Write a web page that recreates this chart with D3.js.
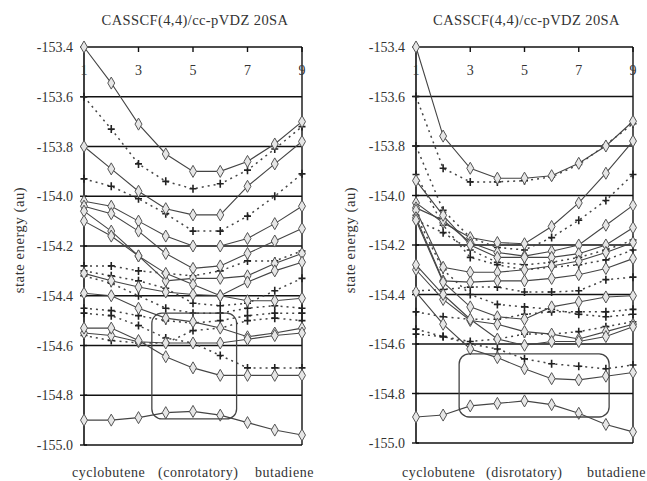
<!DOCTYPE html>
<html>
<head>
<meta charset="utf-8">
<script src="https://cdn.jsdelivr.net/npm/d3@7"></script>
<style>
  body { margin: 0; background: #fff; }
  svg { display: block; }
  text { fill: #333; }
</style>
</head>
<body>
<svg id="chart" width="647" height="481" font-family="'Liberation Serif', 'Times New Roman', serif"></svg>
<script>
// Data
const steps = [1, 2, 3, 4, 5, 6, 7, 8, 9]
const topTicks = [1, 3, 5, 7, 9]
const energyTicks = [-153.4, -153.6, -153.8, -154.0, -154.2, -154.4, -154.6, -154.8, -155.0]
const titleText = "CASSCF(4,4)/cc-pVDZ 20SA"
const conLabels = ["cyclobutene", "(conrotatory)", "butadiene"]
const disLabels = ["cyclobutene", "(disrotatory)", "butadiene"]

// conrotatory, solid lines with diamonds
const conSolid = [
  [-153.40, -153.545, -153.71, -153.83, -153.90, -153.90, -153.86, -153.79, -153.70],
  [-153.80, -153.89, -153.98, -154.05, -154.075, -154.075, -153.96, -153.87, -153.78],
  [-154.02, -154.04, -154.10, -154.16, -154.20, -154.20, -154.17, -154.11, -154.04],
  [-154.04, -154.07, -154.14, -154.23, -154.29, -154.28, -154.23, -154.18, -154.13],
  [-154.06, -154.14, -154.24, -154.34, -154.33, -154.33, -154.32, -154.27, -154.23],
  [-154.10, -154.16, -154.24, -154.31, -154.355, -154.40, -154.42, -154.42, -154.41],
  [-154.31, -154.34, -154.365, -154.385, -154.395, -154.40, -154.345, -154.30, -154.265],
  [-154.39, -154.40, -154.45, -154.49, -154.505, -154.53, -154.565, -154.55, -154.53],
  [-154.55, -154.56, -154.585, -154.59, -154.59, -154.59, -154.575, -154.56, -154.55],
  [-154.53, -154.53, -154.58, -154.645, -154.69, -154.72, -154.72, -154.72, -154.72],
  [-154.90, -154.90, -154.89, -154.87, -154.865, -154.88, -154.91, -154.94, -154.96]
]
// conrotatory, dotted lines with plus signs
const conDotted = [
  [-153.60, -153.73, -153.87, -153.94, -153.97, -153.95, -153.895, -153.81, -153.72],
  [-153.93, -153.96, -154.01, -154.07, -154.14, -154.14, -154.08, -154.00, -153.91],
  [-154.28, -154.28, -154.30, -154.31, -154.32, -154.30, -154.26, -154.26, -154.22],
  [-154.30, -154.32, -154.34, -154.37, -154.43, -154.44, -154.43, -154.38, -154.33],
  [-154.32, -154.35, -154.40, -154.45, -154.47, -154.47, -154.45, -154.44, -154.45],
  [-154.45, -154.46, -154.48, -154.50, -154.51, -154.50, -154.48, -154.47, -154.47],
  [-154.47, -154.48, -154.52, -154.57, -154.59, -154.64, -154.69, -154.69, -154.69],
  [-154.56, -154.58, -154.59, -154.59, -154.54, -154.53, -154.50, -154.49, -154.50]
]

// disrotatory, solid lines with diamonds
const disSolid = [
  [-153.40, -153.76, -153.89, -153.93, -153.93, -153.92, -153.87, -153.80, -153.70],
  [-154.03, -154.11, -154.17, -154.19, -154.195, -154.125, -154.03, -153.91, -153.78],
  [-154.05, -154.10, -154.19, -154.23, -154.245, -154.225, -154.20, -154.12, -154.04],
  [-153.94, -154.08, -154.20, -154.25, -154.25, -154.25, -154.235, -154.20, -154.13],
  [-154.06, -154.29, -154.31, -154.31, -154.30, -154.285, -154.265, -154.23, -154.19],
  [-154.09, -154.345, -154.35, -154.345, -154.345, -154.335, -154.32, -154.295, -154.255],
  [-154.10, -154.35, -154.45, -154.49, -154.50, -154.45, -154.43, -154.41, -154.405],
  [-154.30, -154.42, -154.505, -154.52, -154.55, -154.56, -154.58, -154.55, -154.52],
  [-154.28, -154.40, -154.50, -154.58, -154.605, -154.59, -154.59, -154.57, -154.53],
  [-154.39, -154.52, -154.62, -154.655, -154.70, -154.74, -154.745, -154.73, -154.715],
  [-154.895, -154.887, -154.85, -154.84, -154.83, -154.845, -154.88, -154.925, -154.955]
]
// disrotatory, dotted lines with plus signs
const disDotted = [
  [-153.60, -153.89, -153.945, -153.945, -153.94, -153.925, -153.875, -153.795, -153.71],
  [-153.80, -154.06, -154.17, -154.21, -154.22, -154.17, -154.10, -154.02, -153.915],
  [-154.10, -154.15, -154.22, -154.27, -154.28, -154.27, -154.25, -154.22, -154.18],
  [-153.915, -154.12, -154.25, -154.28, -154.30, -154.29, -154.28, -154.26, -154.22],
  [-154.385, -154.38, -154.37, -154.37, -154.39, -154.39, -154.385, -154.34, -154.33],
  [-154.08, -154.30, -154.40, -154.44, -154.45, -154.46, -154.48, -154.49, -154.48],
  [-154.47, -154.49, -154.50, -154.50, -154.48, -154.47, -154.47, -154.47, -154.46],
  [-154.56, -154.57, -154.59, -154.58, -154.56, -154.56, -154.55, -154.53, -154.51],
  [-154.54, -154.57, -154.60, -154.62, -154.66, -154.68, -154.69, -154.70, -154.685]
]

// highlight boxes: [x0, x1, e0, e1] in data units
const conBox = [3.49, 6.6, -154.47, -154.895]
const disBox = [2.59, 8.12, -154.64, -154.895]

const svg = d3.select("#chart")

function drawPanel(p) {
  let x = d3.scaleLinear().domain([1, 9]).range([p.x0, p.x1])
  let y = d3.scaleLinear().domain([-155.0, -153.4]).range([p.y1, p.y0])
  let g = svg.append("g")

  // title
  g.append("text")
    .attr("x", (p.x0 + p.x1) / 2 + 2).attr("y", 25)
    .attr("text-anchor", "middle")
    .style("font-size", "14.5px").style("letter-spacing", "0.4px")
    .text(titleText)

  // horizontal grid
  g.selectAll(".grid").data(energyTicks).enter()
    .append("line")
    .attr("x1", p.x0).attr("x2", p.x1)
    .attr("y1", d => y(d)).attr("y2", d => y(d))
    .attr("stroke", "#111").attr("stroke-width", 1.4)

  // frame sides
  g.append("line").attr("x1", p.x0).attr("x2", p.x0).attr("y1", y(-153.4)).attr("y2", y(-155.0))
    .attr("stroke", "#111").attr("stroke-width", 1.6)
  g.append("line").attr("x1", p.x1).attr("x2", p.x1).attr("y1", y(-153.4)).attr("y2", y(-155.0))
    .attr("stroke", "#111").attr("stroke-width", 1.4)

  // y ticks + labels
  g.selectAll(".ytick").data(energyTicks).enter()
    .append("line")
    .attr("x1", p.x0 - 4).attr("x2", p.x0 + 3)
    .attr("y1", d => y(d)).attr("y2", d => y(d))
    .attr("stroke", "#111").attr("stroke-width", 1.4)
  g.selectAll(".ylab").data(energyTicks).enter()
    .append("text")
    .attr("x", p.x0 - 11).attr("y", d => y(d) + 5)
    .attr("text-anchor", "end")
    .style("font-size", "14px")
    .text(d => d.toFixed(1))

  // top x ticks + labels (inside)
  g.selectAll(".xtick").data(topTicks).enter()
    .append("line")
    .attr("x1", d => x(d)).attr("x2", d => x(d))
    .attr("y1", y(-153.4)).attr("y2", y(-153.4) + 5)
    .attr("stroke", "#111").attr("stroke-width", 1.4)
  g.selectAll(".xlab").data(topTicks).enter()
    .append("text")
    .attr("x", d => x(d)).attr("y", y(-153.4) + 28)
    .attr("text-anchor", "middle")
    .style("font-size", "14px")
    .text(d => d)

  // y axis title
  g.append("text")
    .attr("transform", `translate(${p.labelX},240) rotate(-90)`)
    .attr("text-anchor", "middle")
    .style("font-size", "14.5px").style("letter-spacing", "0.6px")
    .text("state energy (au)")

  // bottom labels
  g.selectAll(".blab").data(p.labels).enter()
    .append("text")
    .attr("x", (d, i) => p.labelPos[i]).attr("y", 477)
    .style("font-size", "14px").style("letter-spacing", "0.5px")
    .text(d => d)

  let line = d3.line().x((d, i) => x(steps[i])).y(d => y(d))

  // dotted states
  g.selectAll(".dot-line").data(p.dotted).enter()
    .append("path")
    .attr("d", line)
    .attr("fill", "none")
    .attr("stroke", "#444").attr("stroke-width", 1.5)
    .attr("stroke-dasharray", "2,4")

  // solid states
  g.selectAll(".solid-line").data(p.solid).enter()
    .append("path")
    .attr("d", line)
    .attr("fill", "none")
    .attr("stroke", "#444").attr("stroke-width", 1.1)

  // plus markers
  p.dotted.forEach(s => {
    g.selectAll(null).data(s).enter()
      .append("path")
      .attr("transform", (d, i) => `translate(${x(steps[i])},${y(d)})`)
      .attr("d", "M-3.5,0H3.5M0,-4V4")
      .attr("stroke", "#222").attr("stroke-width", 1.6)
  })

  // diamond markers
  let diamond = d3.symbol().type(d3.symbolDiamond).size(42)
  p.solid.forEach(s => {
    g.selectAll(null).data(s).enter()
      .append("path")
      .attr("transform", (d, i) => `translate(${x(steps[i])},${y(d)})`)
      .attr("d", diamond)
      .attr("fill", "#e6e6e6")
      .attr("stroke", "#555").attr("stroke-width", 1)
  })

  // highlight box
  let b = p.box
  g.append("rect")
    .attr("x", x(b[0])).attr("y", y(b[2]))
    .attr("width", x(b[1]) - x(b[0])).attr("height", y(b[3]) - y(b[2]))
    .attr("rx", 10).attr("ry", 10)
    .attr("fill", "none")
    .attr("stroke", "#444").attr("stroke-width", 1.3)
}

drawPanel({
  x0: 84, x1: 302, y0: 47, y1: 445, labelX: 24,
  solid: conSolid, dotted: conDotted, box: conBox,
  labels: conLabels, labelPos: [72, 158, 255]
})

drawPanel({
  x0: 416, x1: 633, y0: 47, y1: 443, labelX: 355,
  solid: disSolid, dotted: disDotted, box: disBox,
  labels: disLabels, labelPos: [402, 486, 587]
})
</script>
</body>
</html>
